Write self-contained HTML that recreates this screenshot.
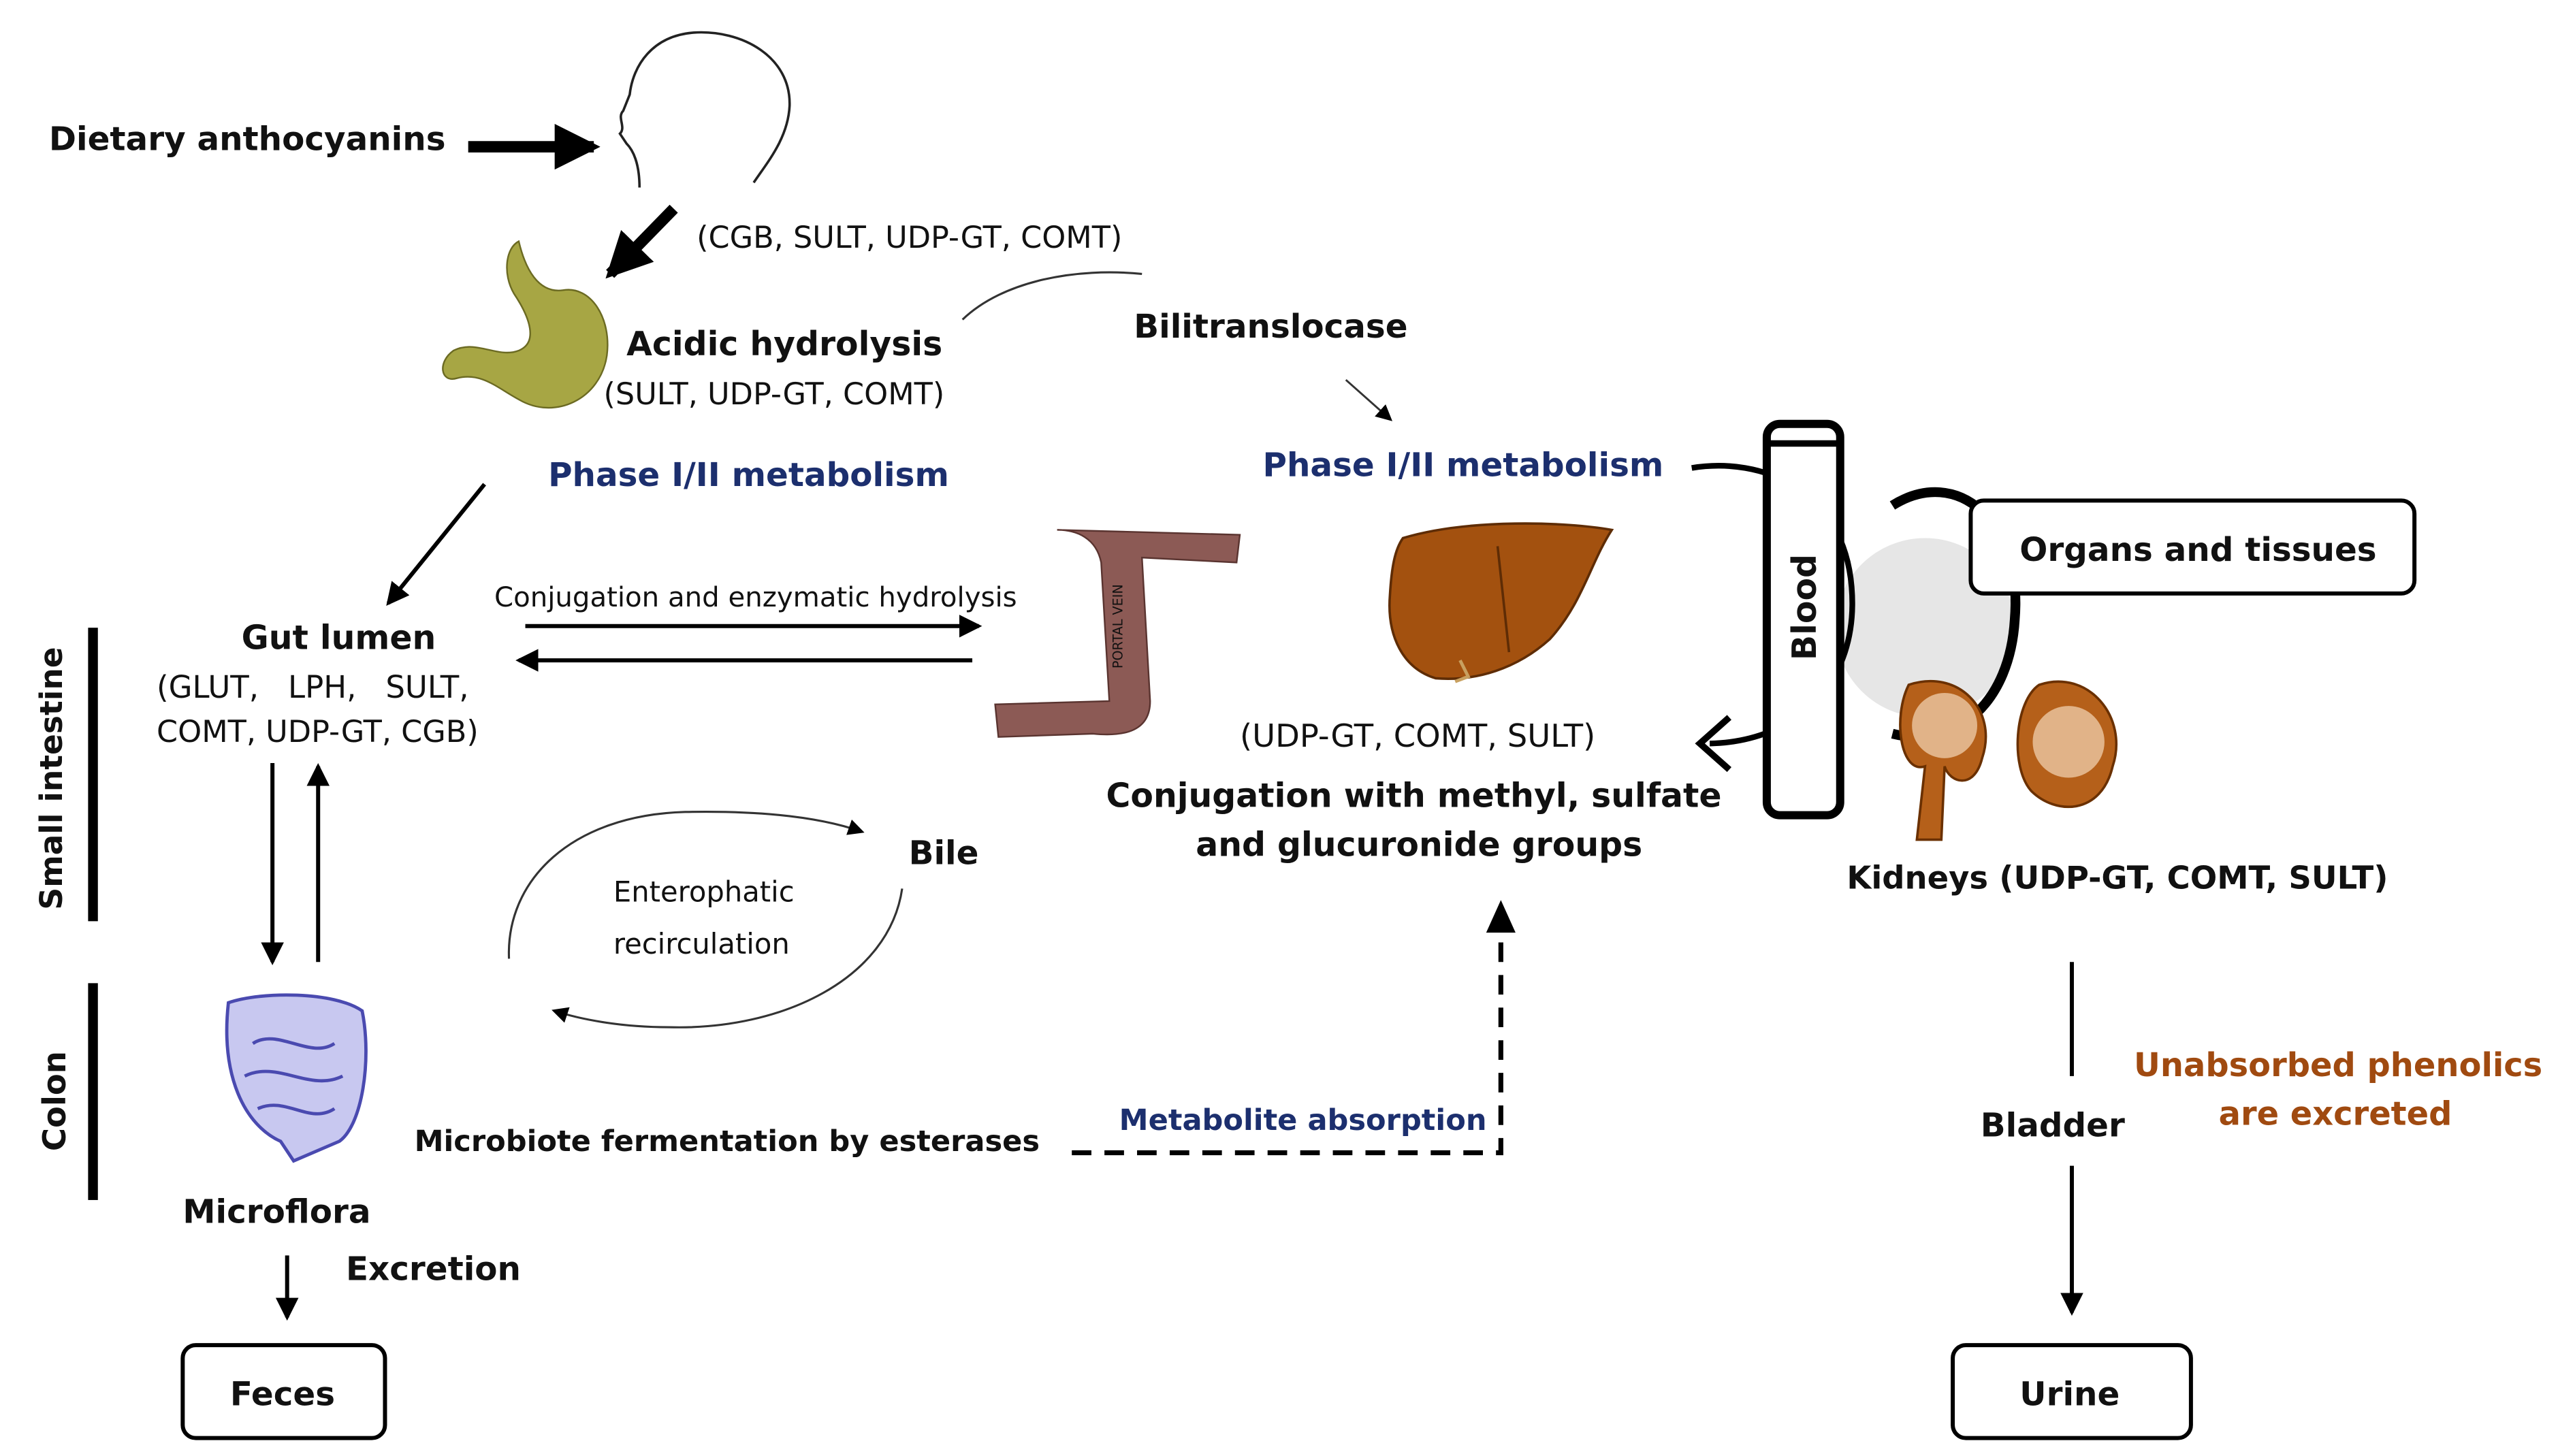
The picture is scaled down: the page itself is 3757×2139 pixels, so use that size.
<!DOCTYPE html>
<html><head><meta charset="utf-8"><style>
html,body{margin:0;padding:0;background:#fff;}
svg{display:block;}
text{font-family:"DejaVu Sans","Liberation Sans",sans-serif;fill:#111;}
.b{font-weight:bold;}
.n{fill:#1c2f6e;font-weight:bold;}
</style></head><body>
<svg width="3757" height="2139" viewBox="0 0 1568 893" preserveAspectRatio="none" xmlns="http://www.w3.org/2000/svg">
<defs>
<marker id="ah" markerWidth="10" markerHeight="10" refX="8" refY="5" orient="auto" markerUnits="userSpaceOnUse"><path d="M0,0 L10,5 L0,10 z" fill="#000"/></marker>
<marker id="ahs" markerWidth="14" markerHeight="14" refX="12" refY="7" orient="auto" markerUnits="userSpaceOnUse"><path d="M0,0 L14,7 L0,14 z" fill="#000"/></marker>
<marker id="ahb" markerWidth="28" markerHeight="28" refX="24" refY="14" orient="auto" markerUnits="userSpaceOnUse"><path d="M0,0 L28,14 L0,28 z" fill="#000"/></marker>
</defs>

<text x="30" y="92" class="b" font-size="20.2">Dietary anthocyanins</text>
<line x1="287" y1="90" x2="364" y2="90" stroke="#000" stroke-width="7" marker-end="url(#ahb)"/>
<path d="M392,115 C392,100 388,92 384,88 L380,82 C384,78 378,72 382,68 L386,58 C388,40 400,22 425,20 C455,18 485,35 484,65 C483,85 470,100 462,112" fill="none" stroke="#222" stroke-width="1.5"/>
<line x1="413" y1="128" x2="374" y2="168" stroke="#000" stroke-width="7" marker-end="url(#ahb)"/>
<text x="427" y="152" font-size="18.6">(CGB, SULT, UDP-GT, COMT)</text>
<path d="M318,148 C322,165 330,180 345,178 C362,175 375,195 372,218 C368,245 340,258 318,245 C305,238 295,228 280,232 C270,235 268,222 278,215 C292,208 305,220 318,215 C330,210 325,195 315,180 C308,168 310,152 318,148 Z" fill="#a7a644" stroke="#6b6a22" stroke-width="1"/>
<text x="384" y="218" class="b" font-size="20.4">Acidic hydrolysis</text>
<text x="370" y="248" font-size="18.6">(SULT, UDP-GT, COMT)</text>
<path d="M590,196 C615,172 660,164 700,168" fill="none" stroke="#333" stroke-width="1.3"/>
<text x="695" y="207" class="b" font-size="20.2">Bilitranslocase</text>
<line x1="825" y1="233" x2="852" y2="257" stroke="#333" stroke-width="1.2" marker-end="url(#ah)"/>
<text x="336" y="298" class="n" font-size="20.2">Phase I/II metabolism</text>
<text x="774" y="292" class="n" font-size="20.2">Phase I/II metabolism</text>
<line x1="297" y1="297" x2="238" y2="370" stroke="#000" stroke-width="2.5" marker-end="url(#ahs)"/>

<text x="148" y="398" class="b" font-size="20.4">Gut lumen</text>
<text x="96" y="428" font-size="18.8" xml:space="preserve">(GLUT,   LPH,   SULT,</text>
<text x="96" y="455" font-size="18.6">COMT, UDP-GT, CGB)</text>
<text x="303" y="372" font-size="16.8">Conjugation and enzymatic hydrolysis</text>
<line x1="322" y1="384" x2="600" y2="384" stroke="#000" stroke-width="2.5" marker-end="url(#ahs)"/>
<line x1="596" y1="405" x2="318" y2="405" stroke="#000" stroke-width="2.5" marker-end="url(#ahs)"/>

<path d="M648,325 L760,328 L758,345 L700,342 L705,430 C705,448 690,452 670,450 L612,452 L610,432 L680,430 L675,345 C672,330 660,325 648,325 Z" fill="#8c5a55" stroke="#5a3430" stroke-width="1"/>
<text transform="translate(688,410) rotate(-90)" font-size="8" fill="#222">PORTAL VEIN</text>

<path d="M860,330 C900,318 960,320 988,325 C975,345 970,370 950,392 C930,410 905,418 880,416 C860,410 850,390 852,365 C853,348 855,337 860,330 Z" fill="#a3510f" stroke="#5e2c05" stroke-width="1.5"/>
<path d="M918,335 L925,400" stroke="#5e2c05" stroke-width="1.5"/>
<path d="M895,405 L900,415 L892,418" fill="none" stroke="#c8a060" stroke-width="2"/>
<text x="760" y="458" font-size="19.4">(UDP-GT, COMT, SULT)</text>
<text x="678" y="495" class="b" font-size="20.4">Conjugation with methyl, sulfate</text>
<text x="733" y="525" class="b" font-size="20.4">and glucuronide groups</text>

<circle cx="1180" cy="385" r="55" fill="#e6e6e6"/>
<path d="M1160,310 C1200,285 1240,320 1235,380 C1232,430 1200,460 1160,450" fill="none" stroke="#000" stroke-width="6"/>
<path d="M1037,287 C1080,280 1130,300 1135,360 C1140,420 1100,455 1048,456" fill="none" stroke="#000" stroke-width="3.5"/>
<path d="M1060,440 L1042,456 L1060,472" fill="none" stroke="#000" stroke-width="4"/>
<rect x="1083" y="260" width="45" height="240" rx="8" fill="#fff" stroke="#000" stroke-width="5"/>
<line x1="1085" y1="272" x2="1126" y2="272" stroke="#000" stroke-width="4"/>
<text transform="translate(1113,405) rotate(-90)" class="b" font-size="20.4">Blood</text>
<rect x="1208" y="307" width="272" height="57" rx="8" fill="#fff" stroke="#000" stroke-width="2.5"/>
<text x="1238" y="344" class="b" font-size="20.2">Organs and tissues</text>
<path d="M1170,420 C1200,410 1225,435 1215,465 C1210,485 1195,480 1192,470 L1190,515 L1175,515 L1180,470 C1165,475 1160,440 1170,420 Z" fill="#b5601a" stroke="#6a3000" stroke-width="1.5"/>
<path d="M1250,420 C1280,410 1305,440 1295,470 C1288,500 1260,500 1245,485 C1232,470 1235,430 1250,420 Z" fill="#b5601a" stroke="#6a3000" stroke-width="1.5"/>
<circle cx="1268" cy="455" r="22" fill="#f3d7b8" opacity="0.7"/>
<circle cx="1192" cy="445" r="20" fill="#f3d7b8" opacity="0.7"/>
<text x="1132" y="545" class="b" font-size="19.4">Kidneys (UDP-GT, COMT, SULT)</text>
<line x1="1270" y1="590" x2="1270" y2="660" stroke="#000" stroke-width="2.5"/>
<text x="1214" y="697" class="b" font-size="20.2">Bladder</text>
<line x1="1270" y1="715" x2="1270" y2="805" stroke="#000" stroke-width="2.5" marker-end="url(#ahs)"/>
<text x="1308" y="660" font-size="20" class="b" style="fill:#a04a10">Unabsorbed phenolics</text>
<text x="1360" y="690" font-size="20" class="b" style="fill:#a04a10">are excreted</text>
<rect x="1197" y="825" width="146" height="57" rx="8" fill="#fff" stroke="#000" stroke-width="2.5"/>
<text x="1238" y="862" class="b" font-size="20.2">Urine</text>

<rect x="54" y="385" width="6" height="180" fill="#000"/>
<rect x="54" y="603" width="6" height="133" fill="#000"/>
<text transform="translate(38,558) rotate(-90)" class="b" font-size="19">Small intestine</text>
<text transform="translate(40,706) rotate(-90)" class="b" font-size="19.4">Colon</text>
<line x1="167" y1="468" x2="167" y2="590" stroke="#000" stroke-width="2.5" marker-end="url(#ahs)"/>
<line x1="195" y1="590" x2="195" y2="470" stroke="#000" stroke-width="2.5" marker-end="url(#ahs)"/>
<path d="M140,615 C160,608 205,608 222,620 C228,650 222,690 208,700 L180,712 L172,700 C150,690 135,660 140,615 Z" fill="#c8c8f0" stroke="#4a4ab0" stroke-width="2"/>
<path d="M155,640 C170,630 190,650 205,640 M150,660 C170,650 190,670 210,660 M158,680 C175,672 190,690 205,680" fill="none" stroke="#4a4ab0" stroke-width="2"/>
<text x="112" y="750" class="b" font-size="20.2">Microflora</text>
<line x1="176" y1="770" x2="176" y2="808" stroke="#000" stroke-width="2.5" marker-end="url(#ahs)"/>
<text x="212" y="785" class="b" font-size="20.2">Excretion</text>
<rect x="112" y="825" width="124" height="57" rx="8" fill="#fff" stroke="#000" stroke-width="2.5"/>
<text x="141" y="862" class="b" font-size="20.2">Feces</text>

<path d="M312,588 C310,540 350,500 420,498 C470,497 505,502 528,510" fill="none" stroke="#333" stroke-width="1.3" marker-end="url(#ah)"/>
<path d="M553,545 C545,600 480,632 410,630 C380,630 355,625 340,620" fill="none" stroke="#333" stroke-width="1.3" marker-end="url(#ah)"/>
<text x="376" y="553" font-size="17.4">Enterophatic</text>
<text x="376" y="585" font-size="17.4">recirculation</text>
<text x="557" y="530" class="b" font-size="20.2">Bile</text>

<text x="254" y="706" class="b" font-size="18">Microbiote fermentation by esterases</text>
<path d="M657,707 L920,707 L920,560" fill="none" stroke="#000" stroke-width="3" stroke-dasharray="12,8"/>
<path d="M911,572 L920,552 L929,572 z" fill="#000"/>
<text x="686" y="693" class="n" font-size="18">Metabolite absorption</text>
</svg>
</body></html>
